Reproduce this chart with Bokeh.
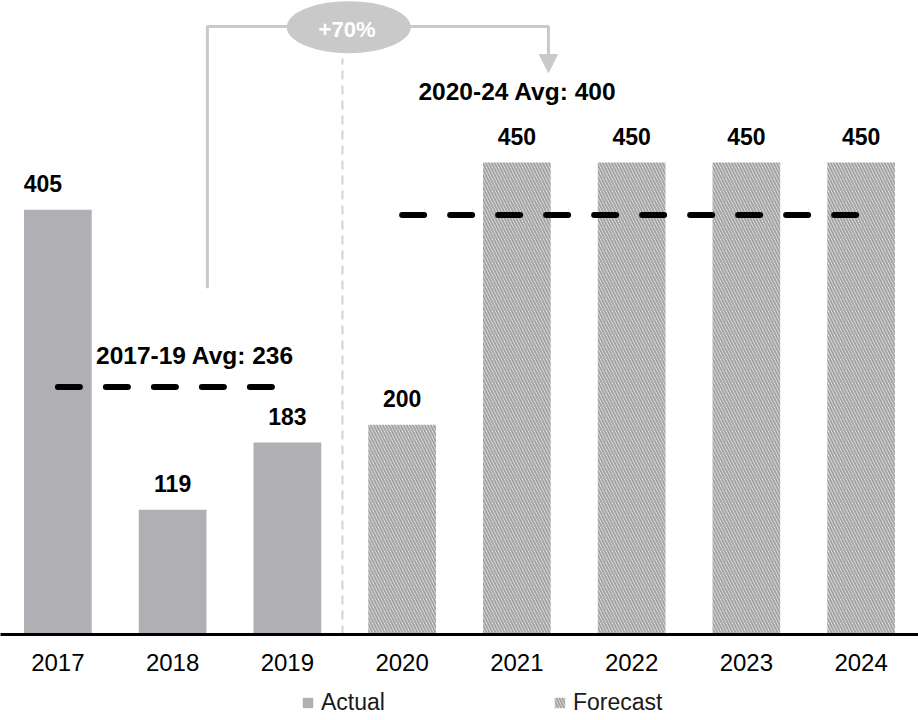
from bokeh.plotting import figure
from bokeh.layouts import column
from bokeh.models import (ColumnDataSource, FixedTicker, Range1d, Legend, LegendItem,
                          Arrow, NormalHead)
from bokeh.core.properties import value
from bokeh.embed import file_html
from bokeh.resources import INLINE

# ---- data ----
years = ["2017", "2018", "2019", "2020", "2021", "2022", "2023", "2024"]
actual_years = ["2017", "2018", "2019"]
actual_values = [405, 119, 183]
forecast_years = ["2020", "2021", "2022", "2023", "2024"]
forecast_values = [200, 450, 450, 450, 450]
avg_2017_19 = 236
avg_2020_24 = 400
avg_labels = ["2017-19 Avg: 236", "2020-24 Avg: 400"]
growth_label = "+70%"
legend_labels = ["Actual", "Forecast"]

FONT = "Liberation Sans"
BAR_GREY = "#b0b0b4"
LIGHT_GREY = "#c9c9c9"
HATCH = dict(fill_color="white", line_color=None, hatch_pattern="\\",
             hatch_color="#a4a4a4", hatch_weight=2.2, hatch_scale=6)

xi = {y: i for i, y in enumerate(years)}
a_x = [xi[y] for y in actual_years]
f_x = [xi[y] for y in forecast_years]
a_dx = [-15, 0, 0]   # label nudges (px)

src_a = ColumnDataSource(dict(x=a_x, top=actual_values, dx=a_dx,
                              label=[str(v) for v in actual_values]))
src_f = ColumnDataSource(dict(x=f_x, top=forecast_values, dx=[0] * len(f_x),
                              label=[str(v) for v in forecast_values]))

p = figure(frame_width=918, frame_height=634, output_backend="svg", toolbar_location=None,
           x_range=Range1d(-0.5, 7.5), y_range=Range1d(0, 604.4),
           y_axis_location=None, min_border=0, min_border_bottom=50,
           background_fill_color="white", border_fill_color="white")
p.outline_line_color = None
p.grid.visible = False

# vertical separator
p.line(x=[2.48, 2.48], y=[0, 549], line_color="#d2d2d2", line_width=2, line_dash="9 6")

# bars
p.vbar(x="x", top="top", width=0.59, source=src_a, fill_color=BAR_GREY, line_color=None)
p.vbar(x="x", top="top", width=0.59, source=src_f, **HATCH)

# value labels
for s in (src_a, src_f):
    p.text(x="x", y="top", text="label", source=s, x_offset="dx", text_align="center",
           text_baseline="middle", y_offset=-26, text_font=value(FONT),
           text_font_style="bold", text_font_size="23px", text_color="black")

# average lines
p.line(x=[a_x[0], a_x[-1]], y=[avg_2017_19, avg_2017_19], line_color="black", line_width=6,
       line_dash="22 26", line_cap="round")
p.line(x=[f_x[0], f_x[-1]], y=[avg_2020_24, avg_2020_24], line_color="black", line_width=6,
       line_dash="22 26", line_cap="round")
p.text(x=[1.195, 4.005], y=[266, 517.6], text=avg_labels, text_align="center",
       text_baseline="middle", text_font=value(FONT), text_font_style="bold",
       text_font_size="24.5px", text_color="black")

# growth connector
p.line(x=[1.303, 1.303, 4.275, 4.275], y=[330, 579.6, 579.6, 556], line_color=LIGHT_GREY,
       line_width=3)
p.add_layout(Arrow(end=NormalHead(size=18, fill_color=LIGHT_GREY, line_color=LIGHT_GREY),
                   x_start=4.275, y_start=560, x_end=4.275, y_end=535.7,
                   line_color=LIGHT_GREY, line_width=3))
p.ellipse(x=[2.535], y=[579], width=124, height=52, width_units="screen",
          height_units="screen", fill_color=LIGHT_GREY, line_color=None)
p.text(x=[2.52], y=[577], text=[growth_label], text_align="center", text_baseline="middle",
       text_font=value(FONT), text_font_style="bold", text_font_size="22px", text_color="white")

# x axis
ax = p.xaxis[0]
ax.ticker = FixedTicker(ticks=list(range(len(years))))
ax.major_label_overrides = {i: y for i, y in enumerate(years)}
ax.axis_line_width = 3
ax.axis_line_color = "black"
ax.major_tick_line_color = None
ax.minor_tick_line_color = None
ax.major_tick_in = 0
ax.major_tick_out = 0
ax.major_label_standoff = 19
ax.major_label_text_font = FONT
ax.major_label_text_font_size = "24px"
ax.major_label_text_color = "black"

# legend strip (separate small figure below the chart)
pl = figure(frame_width=918, frame_height=36, output_backend="svg", toolbar_location=None,
            x_range=Range1d(0, 1), y_range=Range1d(0, 1), x_axis_location=None,
            y_axis_location=None, min_border=0,
            background_fill_color="white", border_fill_color="white")
pl.outline_line_color = None
pl.grid.visible = False
# proxy renderers (kept outside the visible range) only for the legend swatches
la = pl.vbar(x=[5], top=[5], bottom=[4], width=0.5, fill_color=BAR_GREY, line_color=None)
lf = pl.vbar(x=[5], top=[5], bottom=[4], width=0.5, **HATCH)
legend = Legend(items=[LegendItem(label=legend_labels[0], renderers=[la]),
                       LegendItem(label=legend_labels[1], renderers=[lf])],
                orientation="horizontal", location=(301, 4), spacing=168,
                label_standoff=7, glyph_width=13, glyph_height=13, label_height=20,
                label_text_font=FONT, label_text_font_size="23px", label_text_color="#1a1a1a",
                border_line_color=None, background_fill_alpha=0, padding=0, margin=0)
pl.add_layout(legend)

layout = column(p, pl, spacing=0)
open("out.html", "w").write(file_html(layout, INLINE))
